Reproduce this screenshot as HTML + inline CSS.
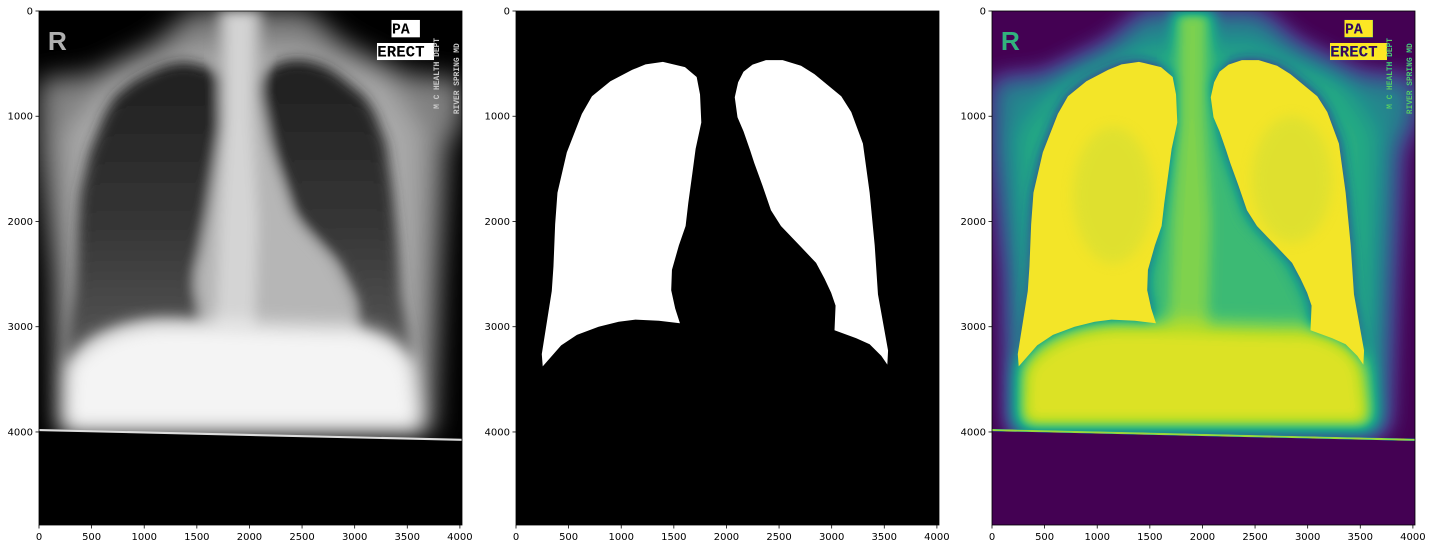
<!DOCTYPE html>
<html><head><meta charset="utf-8"><style>
html,body{margin:0;padding:0;background:#fff;}
.tick{font-family:"DejaVu Sans","Liberation Sans",sans-serif;}
</style></head><body>
<svg id="root" xmlns="http://www.w3.org/2000/svg" width="1432" height="549" viewBox="0 0 1432 549">
<defs>
  <filter id="b1" x="-20%" y="-20%" width="140%" height="140%"><feGaussianBlur stdDeviation="120"/></filter>
  <filter id="b2" x="-20%" y="-20%" width="140%" height="140%"><feGaussianBlur stdDeviation="60"/></filter>
  <filter id="b4" x="-20%" y="-20%" width="140%" height="140%"><feGaussianBlur stdDeviation="90"/></filter>
  <filter id="viridis" color-interpolation-filters="sRGB" x="0" y="0" width="100%" height="100%">
    <feComponentTransfer>
      <feFuncR type="gamma" amplitude="1" exponent="1.15" offset="0"/>
      <feFuncG type="gamma" amplitude="1" exponent="1.15" offset="0"/>
      <feFuncB type="gamma" amplitude="1" exponent="1.15" offset="0"/>
    </feComponentTransfer>
    <feComponentTransfer>
      <feFuncR type="table" tableValues="0.267 0.283 0.254 0.207 0.164 0.128 0.135 0.267 0.478 0.741 0.993"/>
      <feFuncG type="table" tableValues="0.005 0.141 0.265 0.372 0.471 0.567 0.659 0.749 0.821 0.873 0.906"/>
      <feFuncB type="table" tableValues="0.329 0.458 0.530 0.553 0.558 0.551 0.518 0.441 0.318 0.150 0.144"/>
    </feComponentTransfer>
  </filter>
  <linearGradient id="lungGrad" x1="0" y1="0" x2="0" y2="1">
    <stop offset="0" stop-color="#1e1e1e"/><stop offset="0.55" stop-color="#363636"/><stop offset="1" stop-color="#5a5a5a"/>
  </linearGradient>
</defs>
</svg>
<script>
// ---- data (image coordinates, pixels of the 4020x4884 source) ----
const xTicks = [0,500,1000,1500,2000,2500,3000,3500,4000];
const yTicks = [0,1000,2000,3000,4000];
const leftLungX = [1396,1231,1103,897,722,626,483,394,372,356,340,245,254,356,429,579,785,976,1135,1358,1558,1513,1475,1482,1548,1612,1637,1676,1707,1761,1749,1717,1606];
const leftLungY = [483,507,560,667,810,977,1343,1727,2027,2427,2660,3260,3377,3260,3177,3077,3000,2953,2933,2943,2967,2827,2653,2460,2227,2043,1827,1543,1310,1060,793,627,533];
const rightLungX = [2375,2534,2709,2836,3091,3186,3297,3361,3409,3440,3536,3529,3472,3361,3234,3027,3037,2995,2932,2852,2709,2518,2423,2343,2264,2226,2162,2105,2079,2111,2162,2248];
const rightLungY = [467,467,520,600,810,960,1260,1727,2227,2693,3227,3360,3277,3167,3110,3033,2800,2677,2543,2393,2243,2043,1893,1660,1443,1327,1143,1010,820,677,577,510];
const imgW = 4020, imgH = 4884;
const panelLeft = [39, 516, 992];
const axTop = 11, axW = 423, axH = 514;

const NS = "http://www.w3.org/2000/svg";
const root = document.getElementById('root');
function mk(tag, attrs, parent){ const e=document.createElementNS(NS,tag); for(const k in attrs) e.setAttribute(k,attrs[k]); (parent||root).appendChild(e); return e; }
function pts(xs, ys){ return xs.map((x,i)=>x+','+ys[i]).join(' '); }
function sx(v, p){ return panelLeft[p] + v/imgW*axW; }
function sy(v){ return axTop + v/imgH*axH; }
const MONO = 'font-family:"Liberation Mono",monospace;font-weight:bold';
const SANS = 'font-family:"Liberation Sans",sans-serif;font-weight:bold';

function buildXray(parent){
  mk('rect',{x:0,y:0,width:imgW,height:imgH,fill:'#000'},parent);
  const soft = mk('g',{filter:'url(#b1)'},parent);
  mk('polygon',{points:'0,650 500,600 1100,300 1450,0 2550,0 2900,300 3500,600 4020,650 4020,1050 3880,1300 3820,2500 3760,4000 170,4000 130,2500 0,1300',fill:'#808080'},soft);
  mk('polygon',{points:'250,1150 700,650 1500,350 2500,350 3300,650 3650,1150 3600,3900 300,3900',fill:'#a8a8a8'},soft);
  const mid = mk('g',{filter:'url(#b2)'},parent);
  const lp = mk('polygon',{points:pts(leftLungX,leftLungY),fill:'url(#lungGrad)'},mid);
  
  
  const rp = mk('polygon',{points:pts(rightLungX,rightLungY),fill:'url(#lungGrad)'},mid);
  
  
  mk('polygon',{points:'1700,0 2120,0 2110,800 2230,1400 2400,1950 2750,2350 2980,2800 3000,3100 1560,3050 1480,2550 1600,1900 1720,1100',fill:'#b6b6b6'},mid);
  mk('polygon',{points:'1790,0 2030,0 2020,1000 2080,2000 2050,3050 1680,3050 1720,2000 1780,1000',fill:'#d4d4d4'},mid);
  const ab = mk('g',{filter:'url(#b4)'},parent);
  mk('path',{d:'M260,3380 C500,3050 900,2950 1300,2960 C1700,2960 2400,3000 3000,3000 C3300,3050 3500,3200 3560,3380 L3640,3980 L240,3980 Z',fill:'#f4f4f4'},ab);
  const b1 = mk('rect',{x:3350,y:85,width:270,height:165,fill:'#fff'},parent);
   
  const b2 = mk('rect',{x:3212,y:304,width:542,height:162,fill:'#fff'},parent);
   
  mk('polygon',{points:'0,3985 4020,4080 4020,4884 0,4884',fill:'#000'},parent);
  mk('line',{x1:0,y1:3982,x2:4020,y2:4075,stroke:'#ddd','stroke-width':20},parent);
  const t1 = mk('text',{x:85,y:370,'font-size':250,fill:'#b0b0b0',style:SANS},parent); t1.textContent='R';
   
  const t2 = mk('text',{x:3355,y:215,'font-size':140,fill:'#000',style:MONO},parent); t2.textContent='PA';
   
  const t3 = mk('text',{x:3215,y:430,'font-size':150,fill:'#000',style:MONO},parent); t3.textContent='ERECT';
   
  const t4 = mk('text',{x:0,y:0,'font-size':75,fill:'#c8c8c8',style:MONO,transform:'translate(3800,930) rotate(-90)'},parent); t4.textContent='M C  HEALTH  DEPT';
   
  const t5 = mk('text',{x:0,y:0,'font-size':75,fill:'#c8c8c8',style:MONO,transform:'translate(3990,980) rotate(-90)'},parent); t5.textContent='RIVER  SPRING  MD';
   
}

// panel 1
const s1 = mk('svg',{x:panelLeft[0],y:axTop,width:axW,height:axH,viewBox:`0 0 ${imgW} ${imgH}`,preserveAspectRatio:'none'});
 
const xg = mk('g',{},s1);
buildXray(xg);

// panel 2 (mask)
const s2 = mk('svg',{x:panelLeft[1],y:axTop,width:axW,height:axH,viewBox:`0 0 ${imgW} ${imgH}`,preserveAspectRatio:'none'});
 
mk('rect',{x:0,y:0,width:imgW,height:imgH,fill:'#000'},s2);
const m1 = mk('polygon',{points:pts(leftLungX,leftLungY),fill:'#fff'},s2);
 
const m2 = mk('polygon',{points:pts(rightLungX,rightLungY),fill:'#fff'},s2);
 

// panel 3 (overlay, viridis)
const s3 = mk('svg',{x:panelLeft[2],y:axTop,width:axW,height:axH,viewBox:`0 0 ${imgW} ${imgH}`,preserveAspectRatio:'none'});
 
const g3 = mk('g',{filter:'url(#viridis)'},s3);
buildXray(g3);
const o1 = mk('polygon',{points:pts(leftLungX,leftLungY),fill:'#f3e528'},s3);
 
const o2 = mk('polygon',{points:pts(rightLungX,rightLungY),fill:'#f3e528'},s3);
 
const tex = mk('g',{opacity:0.22,filter:'url(#b2)'},s3);
mk('ellipse',{cx:1150,cy:1750,rx:380,ry:650,fill:'#9ad34c'},tex);
mk('ellipse',{cx:2850,cy:1600,rx:380,ry:600,fill:'#9ad34c'},tex);

// axes frames and ticks
for(let p=0;p<3;p++){
  const fr = mk('rect',{x:panelLeft[p],y:axTop,width:axW,height:axH,fill:'none',stroke:'#000','stroke-width':0.8});
   
  xTicks.forEach(v=>{
    const x = sx(v,p);
    mk('line',{x1:x,y1:axTop+axH,x2:x,y2:axTop+axH+3.5,stroke:'#000','stroke-width':0.8});
    const t = mk('text',{x:x,y:axTop+axH+15,'font-size':10,'text-anchor':'middle',fill:'#000',class:'tick'});
    t.textContent = v;
    
    
  });
  yTicks.forEach(v=>{
    const y = sy(v);
    mk('line',{x1:panelLeft[p]-3.5,y1:y,x2:panelLeft[p],y2:y,stroke:'#000','stroke-width':0.8});
    const t = mk('text',{x:panelLeft[p]-6,y:y+3.5,'font-size':10,'text-anchor':'end',fill:'#000',class:'tick'});
    t.textContent = v;
    
    
  });
}
</script>
</body></html>
